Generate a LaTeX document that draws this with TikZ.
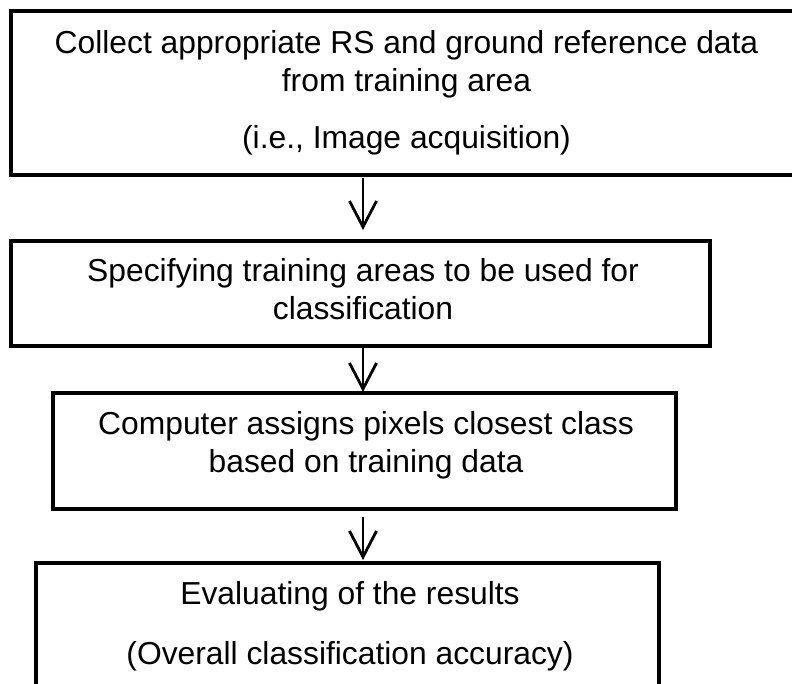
\documentclass[tikz,border=0pt]{standalone}
\usepackage{fontspec}
\setmainfont{Liberation Sans}
\usetikzlibrary{arrows.meta}

\tikzset{
  stepbox/.style={draw=black, line width=4pt, rectangle, inner sep=0pt, outer sep=0pt, fill=none},
  steptext/.style={anchor=base, inner sep=0pt, outer sep=0pt,
                   font=\fontsize{31.8}{36}\selectfont},
  flowarrow/.style={draw=black, line width=2.8pt,
                    -{Straight Barb[length=26pt, width=27pt, line width=2.8pt]}}
}

\begin{document}
\begin{tikzpicture}[x=1pt, y=-1pt]
  \useasboundingbox (0,0) rectangle (792,683);
  \clip (0,0) rectangle (792,683);
  \fill[white] (0,0) rectangle (792,683);

  % step boxes (corner to corner, on the border centre line)
  \node[stepbox, minimum width=800pt, minimum height=164pt] (b1) at (411,93) {};
  \node[stepbox, minimum width=699pt, minimum height=105pt] (b2) at (360.5,293.5) {};
  \node[stepbox, minimum width=623pt, minimum height=116pt] (b3) at (364.5,451) {};
  \node[stepbox, minimum width=623pt, minimum height=140pt] (b4) at (347.5,633) {};

  % texts, placed on their baselines
  \node[steptext] (b1t1) at (406.5,53)  {Collect appropriate RS and ground reference data};
  \node[steptext] (b1t2) at (406.5,91)  {from training area};
  \node[steptext] (b1t3) at (406.5,148) {(i.e., Image acquisition)};

  \node[steptext] (b2t1) at (363,281) {Specifying training areas to be used for};
  \node[steptext] (b2t2) at (363,319) {classification};

  \node[steptext] (b3t1) at (366,434) {Computer assigns pixels closest class};
  \node[steptext] (b3t2) at (366,472) {based on training data};

  \node[steptext] (b4t1) at (350,604) {Evaluating of the results};
  \node[steptext] (b4t2) at (350,664) {(Overall classification accuracy)};

  % arrows between the steps
  \coordinate (ax) at (363,0);
  \draw[flowarrow, shorten <=3pt, shorten >=11pt] (b1.south -| ax) -- (b2.north -| ax);
  \draw[flowarrow, shorten <=2pt, shorten >=1pt]  (b2.south -| ax) -- (b3.north -| ax);
  \draw[flowarrow, shorten <=8pt, shorten >=3pt]  (b3.south -| ax) -- (b4.north -| ax);
\end{tikzpicture}
\end{document}
